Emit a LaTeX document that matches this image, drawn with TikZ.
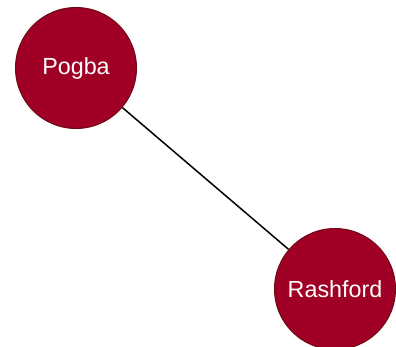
\documentclass[tikz,border=0pt]{standalone}
\usepackage{fontspec}
\setmainfont{Liberation Sans}
\usepackage{tikz}
\definecolor{player}{HTML}{A10026}
\definecolor{playerrim}{HTML}{6E0A14}

\begin{document}
\begin{tikzpicture}[x=1pt,y=-1pt,
	player/.style={circle,fill=player,draw=playerrim,line width=1pt,minimum size=121pt,inner sep=0pt,text=white,font=\fontsize{23.3}{26}\selectfont}]
	\useasboundingbox (0,0) rectangle (396,347);
	\node[player] (pogba) at (76,68) {Pogba};
	\node[player] (rashford) at (335,289) {Rashford};
	\draw[line width=1.5pt] (pogba) -- (rashford);
\end{tikzpicture}
\end{document}
